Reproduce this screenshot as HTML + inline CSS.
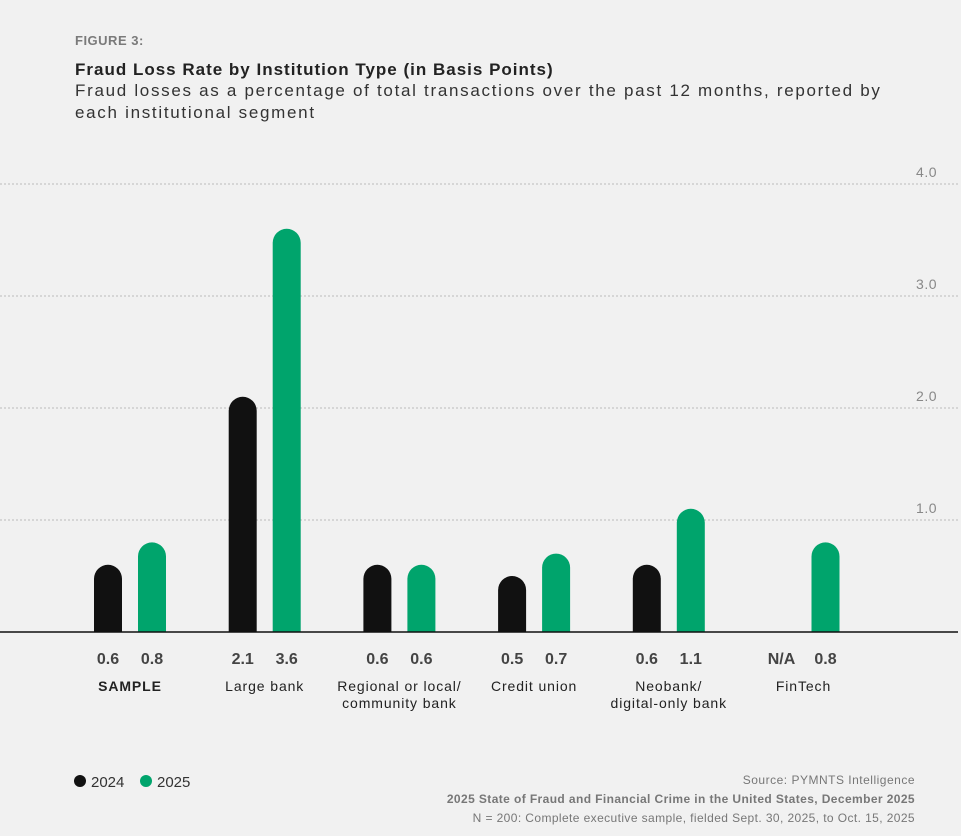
<!DOCTYPE html>
<html><head><meta charset="utf-8">
<style>
body{margin:0;background:#f1f1f1;width:961px;height:836px;overflow:hidden;font-family:"Liberation Sans",sans-serif;}
svg{display:block}
</style></head>
<body>
<svg id="chart" width="961" height="836">
<text x="75" y="45" font-size="13" font-weight="bold" fill="#7a7a7a" letter-spacing="0.5">FIGURE 3:</text>
<text x="75" y="75" font-size="17" font-weight="bold" fill="#222" letter-spacing="1">Fraud Loss Rate by Institution Type (in Basis Points)</text>
<text x="75" y="96" font-size="17" fill="#333" letter-spacing="1.7">Fraud losses as a percentage of total transactions over the past 12 months, reported by</text>
<text x="75" y="118" font-size="17" fill="#333" letter-spacing="1.7">each institutional segment</text>
<g id="grid"></g>
<g id="bars"></g>
<line x1="0" y1="632" x2="958" y2="632" stroke="#111" stroke-width="1.5"/>
<g>
<circle cx="80" cy="781" r="6" fill="#111"/>
<text x="91" y="787" font-size="15" fill="#333">2024</text>
<circle cx="146" cy="781" r="6" fill="#00a46c"/>
<text x="157" y="787" font-size="15" fill="#333">2025</text>
</g>
<text x="915" y="784" font-size="12" fill="#777" letter-spacing="0.5" text-anchor="end">Source: PYMNTS Intelligence</text>
<text x="915" y="803" font-size="12" font-weight="bold" fill="#777" letter-spacing="0.4" text-anchor="end">2025 State of Fraud and Financial Crime in the United States, December 2025</text>
<text x="915" y="822" font-size="12" fill="#777" letter-spacing="0.4" text-anchor="end">N = 200: Complete executive sample, fielded Sept. 30, 2025, to Oct. 15, 2025</text>
</svg>
<script>
const categories = [["SAMPLE"],["Large bank"],["Regional or local/","community bank"],["Credit union"],["Neobank/","digital-only bank"],["FinTech"]];
const values2024 = [0.6, 2.1, 0.6, 0.5, 0.6, null];
const values2025 = [0.8, 3.6, 0.6, 0.7, 1.1, 0.8];
const labels2024 = ["0.6","2.1","0.6","0.5","0.6","N/A"];
const labels2025 = ["0.8","3.6","0.6","0.7","1.1","0.8"];
const yTicks = [1, 2, 3, 4];
const tickLabels = ["1.0","2.0","3.0","4.0"];

const NS="http://www.w3.org/2000/svg";
const y = v => 632 - v*112;
const groupX = i => 130 + i*134.7;
const BW=28;
const grid=document.getElementById('grid'), bars=document.getElementById('bars');
function mk(tag,attrs,parent){const e=document.createElementNS(NS,tag);for(const k in attrs)e.setAttribute(k,attrs[k]);parent.appendChild(e);return e;}
yTicks.forEach((t,i)=>{
  const l=mk('line',{x1:0,x2:958,y1:y(t),y2:y(t),stroke:'#bbb','stroke-width':1,'stroke-dasharray':'2,2'},grid);
  
  
  const tx=mk('text',{x:937,y:y(t)-7,'font-size':14,fill:'#888','text-anchor':'end','letter-spacing':0.5},grid);
  tx.textContent=tickLabels[i];
  
  
});
function bar(cx,v,color,name){
  const top=y(v),r=BW/2;
  const d=`M${cx-r},632 L${cx-r},${top+r} A${r},${r} 0 0 1 ${cx+r},${top+r} L${cx+r},632 Z`;
  const p=mk('path',{d:d,fill:color},bars);
  
  
}
categories.forEach((c,i)=>{
  const gx=groupX(i);
  if(values2024[i]!=null) bar(gx-22,values2024[i],'#111','bar-2024-'+i);
  bar(gx+22,values2025[i],'#00a46c','bar-2025-'+i);
  const a=mk('text',{x:gx-22,y:664,'font-size':16,'font-weight':'bold',fill:'#444','text-anchor':'middle'},bars);
  a.textContent=labels2024[i];
  
  
  const b=mk('text',{x:gx+22,y:664,'font-size':16,'font-weight':'bold',fill:'#444','text-anchor':'middle'},bars);
  b.textContent=labels2025[i];
  
  
  c.forEach((line,j)=>{
    const t=mk('text',{x:gx,y:691+j*17,'font-size':14,fill:'#222','text-anchor':'middle','letter-spacing':0.9,'font-weight':i===0?'bold':'normal'},bars);
    t.textContent=line;
    
    
  });
});
</script>
</body></html>
